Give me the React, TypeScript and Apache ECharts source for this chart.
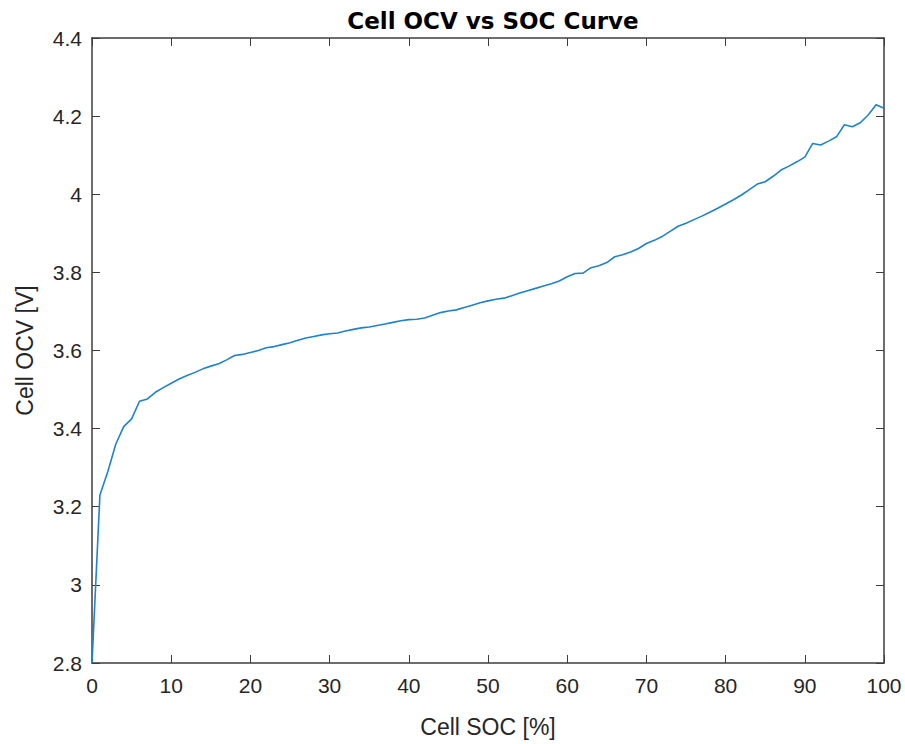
import React, { useEffect, useRef } from "react";
import * as echarts from "echarts";

// State of charge, percent
const soc: number[] = [
  0, 1, 2, 3, 4, 5, 6, 7, 8, 9, 10, 11, 12, 13, 14, 15, 16, 17, 18, 19, 20,
  21, 22, 23, 24, 25, 26, 27, 28, 29, 30, 31, 32, 33, 34, 35, 36, 37, 38, 39, 40,
  41, 42, 43, 44, 45, 46, 47, 48, 49, 50, 51, 52, 53, 54, 55, 56, 57, 58, 59, 60,
  61, 62, 63, 64, 65, 66, 67, 68, 69, 70, 71, 72, 73, 74, 75, 76, 77, 78, 79, 80,
  81, 82, 83, 84, 85, 86, 87, 88, 89, 90, 91, 92, 93, 94, 95, 96, 97, 98, 99, 100,
];

// Open-circuit voltage, volts
const ocv: number[] = [
  2.8, 3.23, 3.29, 3.36, 3.405, 3.425, 3.47, 3.476, 3.493, 3.505, 3.516,
  3.527, 3.536, 3.544, 3.553, 3.56, 3.566, 3.576, 3.587, 3.59, 3.595,
  3.6, 3.607, 3.61, 3.615, 3.62, 3.626, 3.632, 3.636, 3.64, 3.643,
  3.645, 3.65, 3.654, 3.658, 3.66, 3.664, 3.668, 3.672, 3.676, 3.679,
  3.68, 3.683, 3.69, 3.697, 3.701, 3.704, 3.71, 3.716, 3.722, 3.727,
  3.731, 3.734, 3.74, 3.747, 3.753, 3.759, 3.765, 3.771, 3.778, 3.789,
  3.797, 3.798, 3.812, 3.817, 3.825, 3.84, 3.845, 3.852, 3.861, 3.874,
  3.882, 3.892, 3.905, 3.918, 3.926, 3.935, 3.944, 3.954, 3.964, 3.975,
  3.986, 3.998, 4.012, 4.026, 4.032, 4.046, 4.062, 4.072, 4.083, 4.095,
  4.13, 4.126, 4.136, 4.147, 4.178, 4.173, 4.183, 4.203, 4.229, 4.22,
];

const xTicks = { min: 0, max: 100, interval: 10 };
const yTicks = { min: 2.8, max: 4.4, interval: 0.2 };

const TEXT = "#262626";
const AXIS = "#3c3c3c";
const FONT = "'Liberation Sans', Arial, sans-serif";

export default function App() {
  const ref = useRef<HTMLDivElement>(null);

  useEffect(() => {
    if (!ref.current) return;
    const chart = echarts.init(ref.current, undefined, { renderer: "svg" });

    const axisLine = { show: true, onZero: false, lineStyle: { color: AXIS, width: 1.5 } };
    const tick = { show: true, inside: true, length: 8, lineStyle: { color: AXIS, width: 1 } };
    const fmt = (v: number) => String(+v.toFixed(1));

    chart.setOption({
      animation: false,
      backgroundColor: "#ffffff",
      title: {
        text: "Cell OCV vs SOC Curve",
        left: 488,
        textAlign: "center",
        top: 4,
        textStyle: {
          fontFamily: "'DejaVu Sans', sans-serif",
          fontWeight: "bold",
          fontSize: 23,
          color: "#000000",
        },
      },
      grid: { left: 92, right: 21, top: 38, bottom: 81, containLabel: false },
      xAxis: [
        {
          type: "value",
          ...xTicks,
          position: "bottom",
          name: "Cell SOC [%]",
          nameLocation: "middle",
          nameGap: 52,
          nameTextStyle: { fontFamily: FONT, fontSize: 23, color: TEXT },
          axisLine,
          axisTick: tick,
          splitLine: { show: false },
          axisLabel: { fontFamily: FONT, fontSize: 21, color: TEXT, margin: 12, formatter: fmt },
        },
        {
          type: "value",
          ...xTicks,
          position: "top",
          axisLine,
          axisTick: tick,
          splitLine: { show: false },
          axisLabel: { show: false },
        },
      ],
      yAxis: [
        {
          type: "value",
          ...yTicks,
          position: "left",
          name: "Cell OCV [V]",
          nameLocation: "middle",
          nameGap: 56,
          nameRotate: 90,
          nameTextStyle: { fontFamily: FONT, fontSize: 23, color: TEXT },
          axisLine,
          axisTick: tick,
          splitLine: { show: false },
          axisLabel: { fontFamily: FONT, fontSize: 21, color: TEXT, margin: 10, formatter: fmt },
        },
        {
          type: "value",
          ...yTicks,
          position: "right",
          axisLine,
          axisTick: tick,
          splitLine: { show: false },
          axisLabel: { show: false },
        },
      ],
      series: [
        {
          type: "line",
          data: soc.map((s, i) => [s, ocv[i]]),
          showSymbol: false,
          lineStyle: { color: "#1f82cc", width: 1.6 },
          xAxisIndex: 0,
          yAxisIndex: 0,
        },
      ],
    });

    return () => chart.dispose();
  }, []);

  return (
    <div
      ref={ref}
      style={{ position: "absolute", left: 0, top: 0, width: 905, height: 744, background: "#fff" }}
    />
  );
}
